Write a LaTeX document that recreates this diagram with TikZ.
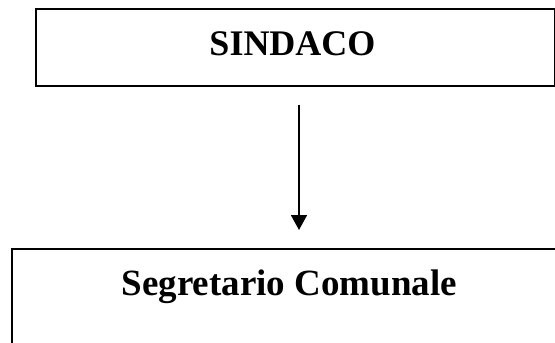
\documentclass[tikz,border=0pt]{standalone}
\usepackage{fontspec}
\setmainfont{Liberation Serif}
\usetikzlibrary{arrows.meta}
\begin{document}
\begin{tikzpicture}[x=1pt,y=-1pt,
  boxshape/.style={draw=black, line width=1.8pt, rectangle, anchor=north west, inner sep=0pt},
  lbl/.style={anchor=base, inner sep=0pt},
  conn/.style={line width=1.8pt, -{Triangle[width=16pt,length=15pt]}}]
\useasboundingbox (0,0) rectangle (555,343);
\node[boxshape, minimum width=519pt, minimum height=77pt] (sindaco) at (35,8) {};
\node[lbl, font=\fontsize{36}{40}\selectfont\bfseries] (sindacotext) at (292.5,55) {SINDACO};
\node[boxshape, minimum width=600pt, minimum height=200pt] (segretario) at (11,248) {};
\node[lbl, font=\fontsize{37}{42}\selectfont\bfseries] (segretariotext) at (289.3,295) {Segretario Comunale};
\coordinate (ax) at (299,0);
\draw[conn, shorten <=18pt, shorten >=18pt] (sindaco.south -| ax) -- (segretario.north -| ax);
\end{tikzpicture}
\end{document}
